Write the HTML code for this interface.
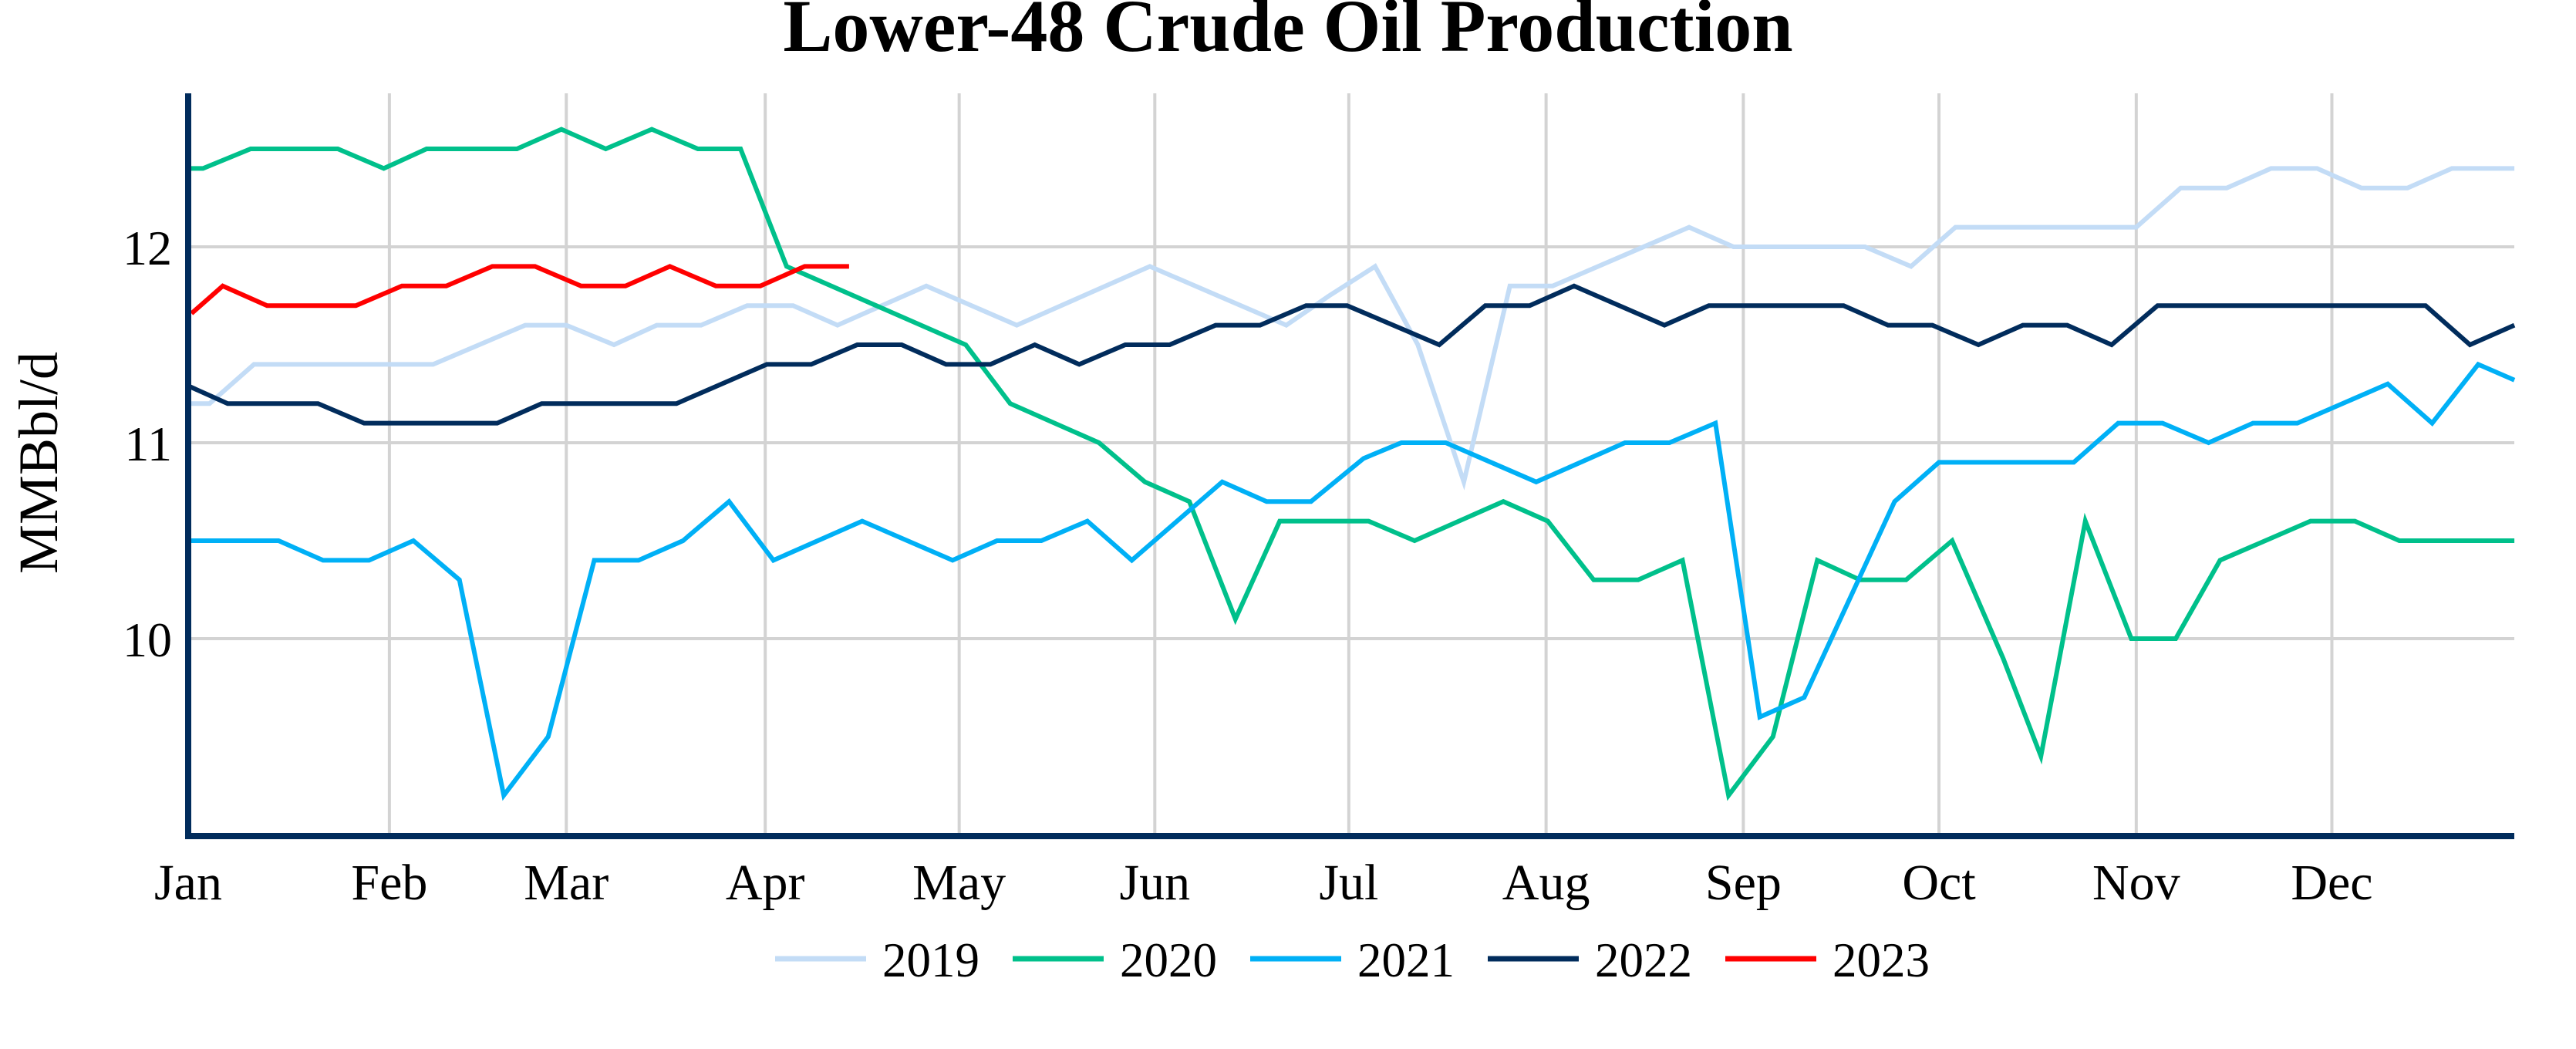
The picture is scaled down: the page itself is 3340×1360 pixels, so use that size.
<!DOCTYPE html>
<html><head><meta charset="utf-8"><style>
html,body{margin:0;padding:0;background:#fff;}
svg{display:block;font-family:"Liberation Serif",serif;}
</style></head><body>
<svg id="s" width="3340" height="1360" viewBox="0 0 3340 1360" xmlns="http://www.w3.org/2000/svg">
<rect width="3340" height="1360" fill="#fff"/>
<text x="1670" y="66" text-anchor="middle" font-size="96" font-weight="bold" fill="#000">Lower-48 Crude Oil Production</text>
<g id="grid" stroke="#d3d3d3" stroke-width="4"></g>
<g id="series" fill="none" stroke-width="6" stroke-linejoin="miter"></g>
<line x1="244" y1="121" x2="244" y2="1088" stroke="#012c5c" stroke-width="8"/>
<line x1="240" y1="1084" x2="3260" y2="1084" stroke="#012c5c" stroke-width="8"/>
<g font-size="64" fill="#000" text-anchor="end">
<text x="223" y="343">12</text>
<text x="223" y="597">11</text>
<text x="223" y="851">10</text>
</g>
<g id="months" font-size="66" fill="#000" text-anchor="middle"></g>
<text transform="translate(74,600) rotate(-90)" text-anchor="middle" font-size="72" fill="#000">MMBbl/d</text>
<g id="legend" font-size="63" fill="#000"></g>
</svg>
<script>
var NS="http://www.w3.org/2000/svg";
function X(t){return 244+(t-115)*2.1315;}
function Y(v){return 320-(v-12)*254;}
function el(p,n,a,txt){var e=document.createElementNS(NS,n);for(var k in a)e.setAttribute(k,a[k]);if(txt)e.textContent=txt;document.getElementById(p).appendChild(e);}
var months=[["Jan",115],["Feb",237.4],["Mar",345],["Apr",466],["May",584],["Jun",703],["Jul",821],["Aug",941],["Sep",1061],["Oct",1180],["Nov",1300],["Dec",1419]];
months.forEach(function(m,i){var x=X(m[1]);if(i>0)el("grid","line",{x1:x,y1:121,x2:x,y2:1084});el("months","text",{x:x,y:1166},m[0]);});
[12,11,10].forEach(function(v){el("grid","line",{x1:244,y1:Y(v),x2:3260,y2:Y(v)});});
var S={
"#c3dcf6":[[115,11.2],[128,11.2],[155,11.4],[264,11.4],[320,11.6],[345,11.6],[374,11.5],[400,11.6],[427,11.6],[455,11.7],[483,11.7],[510,11.6],[564,11.8],[619,11.6],[700,11.9],[783,11.6],[809,11.75],[837,11.9],[863,11.5],[891,10.8],[919,11.8],[945,11.8],[1028,12.1],[1055,12.0],[1135,12.0],[1163,11.9],[1190,12.1],[1300,12.1],[1327,12.3],[1355,12.3],[1382,12.4],[1410,12.4],[1437,12.3],[1465,12.3],[1492,12.4],[1530,12.4]],
"#00c08b":[[115,12.4],[124,12.4],[153,12.5],[206,12.5],[234,12.4],[260,12.5],[315,12.5],[342,12.6],[369,12.5],[397,12.6],[425,12.5],[451,12.5],[479,11.9],[588,11.5],[615,11.2],[669,11.0],[697,10.8],[724,10.7],[752,10.1],[779,10.6],[833,10.6],[861,10.5],[915,10.7],[942,10.6],[970,10.3],[997,10.3],[1024,10.4],[1052,9.2],[1079,9.5],[1106,10.4],[1132,10.3],[1160,10.3],[1188,10.5],[1219,9.9],[1242,9.4],[1269,10.6],[1297,10.0],[1324,10.0],[1351,10.4],[1406,10.6],[1433,10.6],[1460,10.5],[1530,10.5]],
"#00b0f6":[[115,10.5],[170,10.5],[197,10.4],[225,10.4],[252,10.5],[280,10.3],[307,9.2],[334,9.5],[362,10.4],[389,10.4],[416,10.5],[444,10.7],[471,10.4],[525,10.6],[580,10.4],[607,10.5],[634,10.5],[662,10.6],[689,10.4],[744,10.8],[771,10.7],[798,10.7],[830,10.92],[853,11.0],[880,11.0],[935,10.8],[989,11.0],[1016,11.0],[1044,11.1],[1071,9.6],[1098,9.7],[1153,10.7],[1180,10.9],[1262,10.9],[1289,11.1],[1316,11.1],[1344,11.0],[1371,11.1],[1398,11.1],[1453,11.3],[1480,11.1],[1508,11.4],[1530,11.32]],
"#012c5c":[[115,11.29],[139,11.2],[194,11.2],[222,11.1],[303,11.1],[330,11.2],[412,11.2],[467,11.4],[494,11.4],[522,11.5],[549,11.5],[576,11.4],[603,11.4],[630,11.5],[657,11.4],[685,11.5],[712,11.5],[740,11.6],[767,11.6],[795,11.7],[820,11.7],[876,11.5],[904,11.7],[931,11.7],[958,11.8],[1013,11.6],[1040,11.7],[1122,11.7],[1149,11.6],[1176,11.6],[1204,11.5],[1231,11.6],[1258,11.6],[1285,11.5],[1313,11.7],[1476,11.7],[1503,11.5],[1530,11.6]],
"#ff0000":[[117,11.66],[136,11.8],[163,11.7],[217,11.7],[245,11.8],[272,11.8],[300,11.9],[326,11.9],[354,11.8],[381,11.8],[408,11.9],[436,11.8],[463,11.8],[490,11.9],[517,11.9]]
};
for(var c in S){el("series","polyline",{stroke:c,points:S[c].map(function(p){return X(p[0]).toFixed(1)+","+Y(p[1]).toFixed(1);}).join(" ")});}
var L=[["2019","#c3dcf6"],["2020","#00c08b"],["2021","#00b0f6"],["2022","#012c5c"],["2023","#ff0000"]];
L.forEach(function(l,i){var x=1005+i*308;el("legend","line",{x1:x,y1:1243,x2:x+118,y2:1243,stroke:l[1],"stroke-width":7});el("legend","text",{x:x+139,y:1266},l[0]);});
</script>
</body></html>
